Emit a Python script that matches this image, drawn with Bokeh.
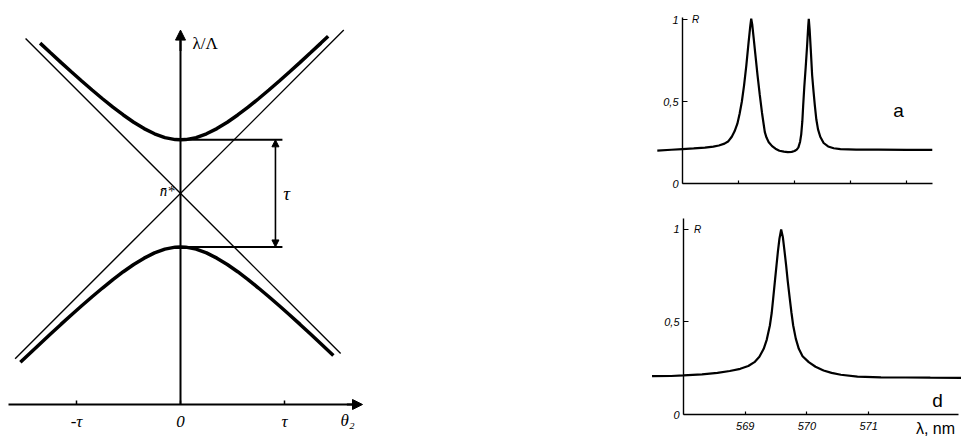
from bokeh.plotting import figure
from bokeh.models import Range1d, LinearAxis, FixedTicker, Arrow, NormalHead
from bokeh.layouts import row, column
from bokeh.embed import file_html
from bokeh.resources import INLINE
from bokeh.core.properties import value

# ---------------- Left panel: dispersion scheme (units of tau) ----------------
n_star = 2.03          # crossing point of the asymptotes (lambda/Lambda)
gap_top = 2.545        # upper band edge
gap_bot = 1.515        # lower band edge

up_theta = [-1.35, -1.25, -1.15, -1.05, -0.95, -0.85, -0.75, -0.65, -0.55, -0.45, -0.35,
            -0.25, -0.15, -0.05, 0.0, 0.05, 0.15, 0.25, 0.35, 0.45, 0.55, 0.65, 0.75,
            0.85, 0.95, 1.05, 1.15, 1.25, 1.35, 1.42]
up_y = [3.475, 3.382, 3.290, 3.200, 3.111, 3.024, 2.940, 2.859, 2.784, 2.714, 2.653,
        2.603, 2.566, 2.547, 2.545, 2.547, 2.566, 2.603, 2.653, 2.714, 2.784, 2.859, 2.940,
        3.024, 3.111, 3.200, 3.290, 3.382, 3.475, 3.541]

lo_theta = [-1.54, -1.45, -1.35, -1.25, -1.15, -1.05, -0.95, -0.85, -0.75, -0.65, -0.55,
            -0.45, -0.35, -0.25, -0.15, -0.05, 0.0, 0.05, 0.15, 0.25, 0.35, 0.45, 0.55,
            0.65, 0.75, 0.85, 0.95, 1.05, 1.15, 1.25, 1.35, 1.47]
lo_y = [0.406, 0.491, 0.585, 0.678, 0.770, 0.861, 0.949, 1.036, 1.120, 1.201, 1.277,
        1.346, 1.407, 1.458, 1.494, 1.513, 1.515, 1.513, 1.494, 1.458, 1.407, 1.346, 1.277,
        1.201, 1.120, 1.036, 0.949, 0.861, 0.770, 0.678, 0.585, 0.472]

asym1_theta = [-1.49, 1.54]
asym1_y = [3.52, 0.49]
asym2_theta = [-1.59, 1.57]
asym2_y = [0.44, 3.60]

theta_ticks = [-1, 0, 1]
theta_tick_labels = ["-τ", "0", "τ"]

# ---------------- Right panels: reflection spectra ----------------
lam_a = [567.55, 567.80, 568.00, 568.20, 568.40, 568.55, 568.65, 568.75, 568.82, 568.88,
         568.93, 568.98, 569.02, 569.06, 569.10, 569.14, 569.18, 569.21, 569.227, 569.245,
         569.27, 569.30, 569.34, 569.38, 569.42, 569.45, 569.47, 569.50, 569.54, 569.60,
         569.66, 569.73, 569.81, 569.88, 569.95, 570.00, 570.04, 570.07, 570.10, 570.12,
         570.14, 570.155, 570.175, 570.20, 570.225, 570.245, 570.255, 570.27, 570.29, 570.315,
         570.34, 570.363, 570.39, 570.42, 570.46, 570.52, 570.60, 570.70, 570.82, 571.10,
         571.50, 572.00, 572.46]
R_a = [0.201, 0.206, 0.210, 0.214, 0.219, 0.225, 0.232, 0.243, 0.258, 0.285,
       0.318, 0.365, 0.425, 0.500, 0.600, 0.720, 0.860, 0.960, 1.005, 0.970,
       0.890, 0.790, 0.660, 0.540, 0.430, 0.360, 0.313, 0.280, 0.252, 0.228,
       0.212, 0.200, 0.194, 0.191, 0.193, 0.198, 0.207, 0.220, 0.255, 0.300,
       0.380, 0.476, 0.590, 0.710, 0.840, 0.960, 1.004, 0.940, 0.820, 0.660,
       0.560, 0.476, 0.390, 0.330, 0.285, 0.247, 0.226, 0.215, 0.210, 0.207,
       0.206, 0.205, 0.205]

lam_d = [567.49, 567.80, 568.00, 568.30, 568.55, 568.75, 568.92, 569.05, 569.15, 569.23,
         569.30, 569.35, 569.40, 569.43, 569.453, 569.48, 569.507, 569.53, 569.555, 569.583,
         569.61, 569.635, 569.664, 569.69, 569.723, 569.75, 569.778, 569.82, 569.869, 569.93,
         570.03, 570.14, 570.27, 570.40, 570.55, 570.82, 571.20, 571.60, 572.00, 572.52]
R_d = [0.207, 0.208, 0.211, 0.217, 0.225, 0.235, 0.247, 0.262, 0.283, 0.312,
       0.355, 0.405, 0.481, 0.550, 0.625, 0.715, 0.805, 0.880, 0.950, 1.000,
       0.960, 0.890, 0.805, 0.720, 0.625, 0.550, 0.481, 0.410, 0.355, 0.315,
       0.283, 0.258, 0.238, 0.225, 0.215, 0.205, 0.201, 0.200, 0.199, 0.198]

lam_ticks_a = [569, 570, 571, 572]
lam_ticks_d = [569, 570, 571]
R_ticks = [0, 0.5, 1]
R_tick_labels = ["0", "0,5", "1"]

SERIF = "Liberation Serif"
SANS = "Liberation Sans"


def base_fig(w, h, xr, yr):
    p = figure(width=w, height=h, x_range=Range1d(*xr), y_range=Range1d(*yr),
               x_axis_type=None, y_axis_type=None, toolbar_location=None,
               output_backend="svg", min_border=0, outline_line_color=None,
               background_fill_color="white", border_fill_color="white")
    return p


# ---- left figure ----
L = base_fig(640, 436, (-1.7308, 4.4231), (-0.3077, 3.8846))

xa = LinearAxis(fixed_location=0, bounds=(-1.654, 1.70),
                ticker=FixedTicker(ticks=theta_ticks),
                major_label_overrides={t: s for t, s in zip(theta_ticks, theta_tick_labels)},
                major_tick_in=4, major_tick_out=0, major_tick_line_width=1.5,
                minor_tick_line_color=None, axis_line_width=2,
                major_label_text_font=SERIF, major_label_text_font_style="italic",
                major_label_text_font_size="17px", major_label_text_color="black",
                major_label_standoff=8)
L.add_layout(xa, "below")
ya = LinearAxis(fixed_location=0, bounds=(0, 3.50), ticker=FixedTicker(ticks=[]),
                major_tick_line_color=None, minor_tick_line_color=None, axis_line_width=2)
L.add_layout(ya, "left")

L.add_layout(Arrow(end=NormalHead(size=10, fill_color="black", line_color="black"),
                   x_start=1.6, y_start=0, x_end=1.75, y_end=0, line_width=2))
L.add_layout(Arrow(end=NormalHead(size=10, fill_color="black", line_color="black"),
                   x_start=0, y_start=3.4, x_end=0, y_end=3.6, line_width=2))

L.line(asym1_theta, asym1_y, line_width=1.4, color="black")
L.line(asym2_theta, asym2_y, line_width=1.4, color="black")
L.line(up_theta, up_y, line_width=3.5, color="black")
L.line(lo_theta, lo_y, line_width=3.5, color="black")

L.segment(x0=[0, 0], y0=[gap_top, gap_bot], x1=[0.98, 0.98], y1=[gap_top, gap_bot],
          line_width=2, color="black")
L.add_layout(Arrow(start=NormalHead(size=7, fill_color="black", line_color="black"),
                   end=NormalHead(size=7, fill_color="black", line_color="black"),
                   x_start=0.913, y_start=gap_bot, x_end=0.913, y_end=gap_top,
                   line_width=1.6))

L.text(x=[1.02], y=[n_star], text=["τ"], text_font=value(SERIF), text_font_style="italic",
       text_font_size="19px", text_align="center", text_baseline="middle", color="black")
L.text(x=[-0.055], y=[n_star + 0.02], text=["n̄*"], text_font=value(SERIF),
       text_font_style="italic", text_font_size="15px", text_align="right",
       text_baseline="middle", color="black")
L.text(x=[0.115], y=[3.47], text=["λ/Λ"], text_font=value(SERIF),
       text_font_size="17px", text_align="left", text_baseline="middle", color="black")
L.text(x=[1.606], y=[-0.155], text=["θ₂"], text_font=value(SERIF), text_font_style="italic",
       text_font_size="17px", text_align="center", text_baseline="middle", color="black")


def spectrum_fig(w, h, xr, yr, lam, R, xticks, xlabels, xbound, ybound):
    p = base_fig(w, h, xr, yr)
    p.line(lam, R, line_width=2.2, color="black")
    ax = LinearAxis(fixed_location=0, bounds=xbound, ticker=FixedTicker(ticks=xticks),
                    major_label_overrides={t: s for t, s in zip(xticks, xlabels)},
                    major_tick_in=3, major_tick_out=0, minor_tick_line_color=None,
                    axis_line_width=1.6, major_tick_line_width=1.2,
                    major_label_text_font=SANS, major_label_text_font_style="italic",
                    major_label_text_font_size="11px", major_label_text_color="black",
                    major_label_standoff=7)
    p.add_layout(ax, "below")
    ay = LinearAxis(fixed_location=568, bounds=ybound, ticker=FixedTicker(ticks=R_ticks),
                    major_label_overrides={t: s for t, s in zip(R_ticks, R_tick_labels)},
                    major_tick_in=5, major_tick_out=0, minor_tick_line_color=None,
                    axis_line_width=1.4, major_tick_line_width=1.2,
                    major_label_text_font=SANS, major_label_text_font_style="italic",
                    major_label_text_font_size="11px", major_label_text_color="black",
                    major_label_standoff=4)
    p.add_layout(ay, "left")
    p.text(x=[568.17], y=[1.0], text=["R"], text_font=value(SANS), text_font_style="italic",
           text_font_size="10px", text_align="left", text_baseline="middle", color="black")
    return p


A = spectrum_fig(321, 205, (567.25, 572.982), (-0.1341, 1.1159), lam_a, R_a,
                 lam_ticks_a, ["", "", "", ""], (568, 572.46), (0, 1.012))
A.text(x=[571.857], y=[0.445], text=["a"], text_font=value(SANS), text_font_size="19px",
       text_align="center", text_baseline="middle", color="black")

D = spectrum_fig(321, 231, (567.303, 572.506), (-0.1189, 1.1297), lam_d, R_d,
                 lam_ticks_d, ["569", "570", "571"], (568, 572.45), (0, 1.06))
D.text(x=[572.117], y=[0.076], text=["d"], text_font=value(SANS), text_font_size="19px",
       text_align="center", text_baseline="middle", color="black")
D.text(x=[572.084], y=[-0.0757], text=["λ, nm"], text_font=value(SANS), text_font_size="16px",
       text_align="center", text_baseline="middle", color="black")

layout = row(L, column(A, D))
open("out.html", "w").write(file_html(layout, INLINE))
